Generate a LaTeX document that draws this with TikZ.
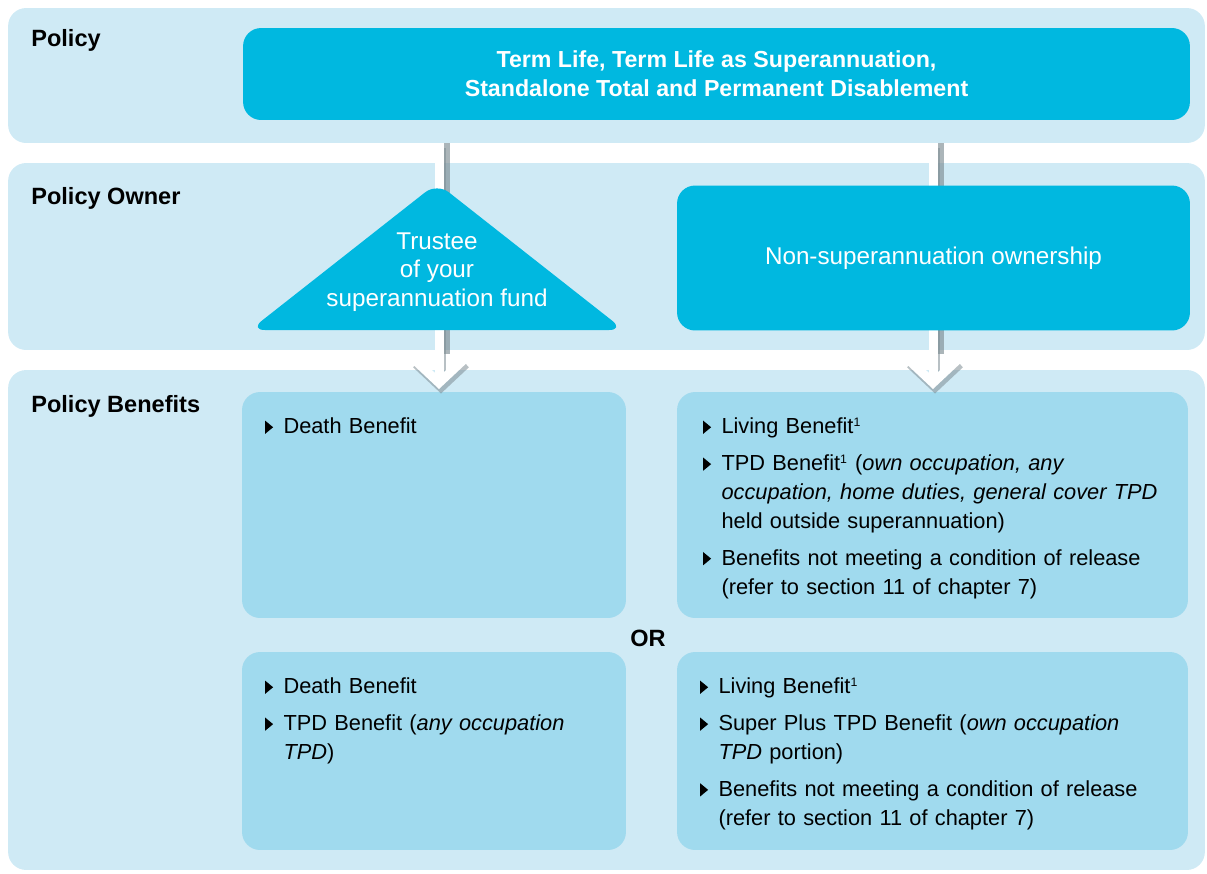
\documentclass[tikz,border=0pt]{standalone}
\usepackage{fontspec}
\setmainfont{Liberation Sans}
\usetikzlibrary{positioning,arrows.meta}
\definecolor{bandblue}{HTML}{CFEAF5}
\definecolor{cyanbox}{HTML}{00B8E0}
\definecolor{benblue}{HTML}{A0DAEE}
\definecolor{shadegray}{HTML}{7E8D93}
\newcommand\bodyfont{\fontsize{12.4}{16.4}\selectfont}
\newcommand\benbullet{\tikz[baseline=0pt]\fill (0,0pt) -- (0,7.6pt) -- (4.6pt,3.8pt) -- cycle;}
\newcommand\benitem[1]{\par\hangindent=0.37cm\hangafter=1\noindent\makebox[0.37cm][l]{\benbullet}#1\par}
\tikzset{
    band/.style={fill=bandblue, rounded corners=0.36cm, minimum width=23.94cm, inner sep=0pt},
    cyanblock/.style={fill=cyanbox, rounded corners=0.36cm, text=white, align=center, inner sep=0pt,
        font=\fontsize{13.8}{16.4}\selectfont},
    benblock/.style={fill=benblue, rounded corners=0.36cm, inner sep=0pt},
    rowlabel/.style={anchor=west, inner sep=0pt, font=\fontsize{13.4}{16}\selectfont\bfseries},
    bentext/.style={anchor=north west, inner sep=0pt, text width=#1, font=\bodyfont,
        execute at begin node={\setlength{\parskip}{4.6pt}\raggedright}},
}

\begin{document}
\begin{tikzpicture}[
    x=0.02cm, y=-0.02cm,
    shaft/.style={draw=white, line width=0.18cm, -{Straight Barb[length=0.46cm, width=0.98cm]}},
    shaftshade/.style={draw=shadegray, opacity=0.65, line width=0.16cm},
    headshade/.style={draw=shadegray, opacity=0.55, line width=0.2cm, -{Straight Barb[length=0.46cm, width=0.98cm]}},
]
\useasboundingbox (0,0) rectangle (1207,873);

% ============ Bands ============

\node[band, minimum height=2.7cm] (policyband) at (606.5,75.5) {};
\node[band, minimum height=3.74cm] (ownerband) at (606.5,256.5) {};
\node[band, minimum height=10cm] (benband) at (606.5,620) {};

\node[rowlabel] (lpolicy) at (31,40) {Policy};
\node[rowlabel] (lowner) at (31,198) {Policy Owner};
\node[rowlabel] (lbenefits) at (31,406) {Policy Benefits};

% ============ Benefit boxes ============

\node[benblock, minimum width=7.68cm, minimum height=4.52cm] (deathA) at (434,505) {};
\node[benblock, minimum width=10.22cm, minimum height=4.52cm] (livingA) at (932.5,505) {};
\node[benblock, minimum width=7.68cm, minimum height=3.96cm] (deathB) at (434,751) {};
\node[benblock, minimum width=10.22cm, minimum height=3.96cm] (livingB) at (932.5,751) {};

\node[font=\fontsize{13.4}{16}\selectfont\bfseries, inner sep=0pt] (or) at (648,638) {OR};

% ============ Arrows ============

\coordinate (tipA) at (439,389);
\coordinate (tipB) at (933,389);

\draw[shaftshade, transform canvas={xshift=0.13cm}] (tipA |- policyband.south) -- ([yshift=0.7cm]tipA);
\draw[shaftshade, transform canvas={xshift=0.13cm}] (tipB |- policyband.south) -- ([yshift=0.7cm]tipB);
\draw[headshade, transform canvas={xshift=0.04cm, yshift=-0.09cm}] (tipA |- policyband.south) -- (tipA);
\draw[headshade, transform canvas={xshift=0.04cm, yshift=-0.09cm}] (tipB |- policyband.south) -- (tipB);
\draw[shaft] (tipA |- policyband.south) -- (tipA);
\draw[shaft] (tipB |- policyband.south) -- (tipB);

% ============ Policy and owners ============

\node[cyanblock, minimum width=18.94cm, minimum height=1.84cm, font=\fontsize{13.2}{16.4}\selectfont\bfseries]
    (policy) at (716.5,74) {Term Life, Term Life as Superannuation,\\Standalone Total and Permanent Disablement};

\fill[cyanbox, rounded corners=0.3cm] (437,183) -- (624,330) -- (250,330) -- cycle;
\node[text=white, align=center, inner sep=0pt, font=\fontsize{13.8}{16.4}\selectfont]
    (trustee) at (437,272) {Trustee\\of your\\superannuation fund};

\node[cyanblock, minimum width=10.26cm, minimum height=2.9cm] (nonsuper) at (933.5,258)
    {Non-superannuation ownership};

% ============ Benefit texts ============

\node[bentext=7cm, below right=0.1cm and 0.46cm of deathA.north west] (tdeathA)
    {\benitem{Death Benefit}};

\node[bentext=9.8cm, below right=0.1cm and 0.52cm of livingA.north west] (tlivingA)
    {\benitem{Living Benefit\textsuperscript{\scriptsize 1}}
     \benitem{TPD Benefit\textsuperscript{\scriptsize 1} (\textit{own occupation, any}\newline
       \textit{occupation, home duties, general cover TPD}\newline held outside superannuation)}
     \benitem{Benefits not meeting a condition of release\newline (refer to section 11 of chapter 7)}};

\node[bentext=7cm, below right=0.1cm and 0.46cm of deathB.north west] (tdeathB)
    {\benitem{Death Benefit}
     \benitem{TPD Benefit (\textit{any occupation}\newline\textit{TPD})}};

\node[bentext=9.8cm, below right=0.1cm and 0.46cm of livingB.north west] (tlivingB)
    {\benitem{Living Benefit\textsuperscript{\scriptsize 1}}
     \benitem{Super Plus TPD Benefit (\textit{own occupation}\newline\textit{TPD} portion)}
     \benitem{Benefits not meeting a condition of release\newline (refer to section 11 of chapter 7)}};

\end{tikzpicture}
\end{document}
